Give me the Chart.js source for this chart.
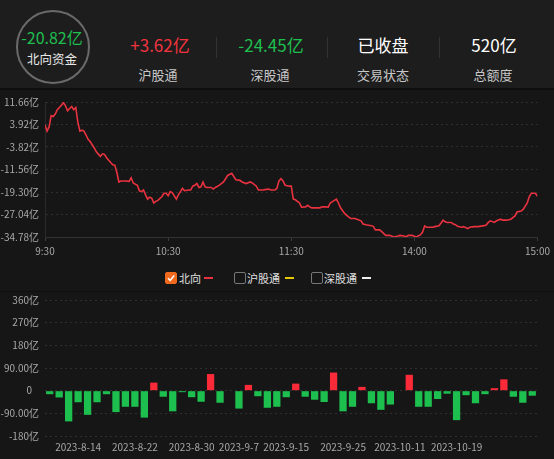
<!DOCTYPE html>
<html><head><meta charset="utf-8">
<script src="https://cdn.jsdelivr.net/npm/chart.js@4.4.0/dist/chart.umd.min.js"></script>
<style>
html,body{margin:0;padding:0;background:#161616;width:554px;height:459px;overflow:hidden;font-family:"Noto Sans CJK SC","Noto Sans",sans-serif;}
#header{position:absolute;left:0;top:0;width:554px;height:88px;background:#1d1d1d;}
#hline{position:absolute;left:0;top:88px;width:554px;height:2px;background:#0e0e0e;}
#circle{position:absolute;left:16px;top:10px;width:70px;height:70px;border:2.5px solid #6a6a6a;border-radius:50%;}
.t{position:absolute;white-space:nowrap;transform:translate(-50%,-50%);line-height:1;}
.v{font-size:17px;}
.l{font-size:13px;color:#c8c8c8;}
.sep{position:absolute;top:37px;width:1px;height:21px;background:#333;}
#line{position:absolute;left:0;top:90px;}
#bar{position:absolute;left:0;top:288px;}
#lsep{position:absolute;left:0;top:291px;width:554px;height:1px;background:#0f0f0f;}
.lg{position:absolute;top:272px;height:13px;font-size:11px;color:#e0e0e0;line-height:13px;}
.cb{position:absolute;top:272px;width:10px;height:10px;border:1px solid #777;border-radius:2px;}
.dash{position:absolute;top:277px;width:9px;height:2px;}
</style></head>
<body>
<div id="header"></div>
<div id="hline"></div>
<div id="circle"></div>
<div class="t v" style="left:52px;top:37px;color:#1fbf4f;font-size:16px">-20.82亿</div>
<div class="t" style="left:52px;top:59px;color:#e8e8e8;font-size:12.5px">北向资金</div>
<div class="t v" style="left:160px;top:44px;color:#f2333f">+3.62亿</div>
<div class="t l" style="left:158px;top:74px">沪股通</div>
<div class="sep" style="left:216px"></div>
<div class="t v" style="left:271px;top:44px;color:#1fbf4f">-24.45亿</div>
<div class="t l" style="left:270px;top:74px">深股通</div>
<div class="sep" style="left:327px"></div>
<div class="t v" style="left:383px;top:44px;color:#ffffff">已收盘</div>
<div class="t l" style="left:383px;top:74px">交易状态</div>
<div class="sep" style="left:439px"></div>
<div class="t v" style="left:494px;top:44px;color:#ffffff">520亿</div>
<div class="t l" style="left:493px;top:74px">总额度</div>

<canvas id="line" width="554" height="172"></canvas>

<div class="cb" style="left:165px;background:#f06a1d;border-color:#f06a1d"><svg width="10" height="10" viewBox="0 0 10 10" style="position:absolute;left:0;top:0"><path d="M2 5.2 L4.2 7.4 L8.2 2.6" stroke="#fff" stroke-width="1.6" fill="none"/></svg></div>
<div class="lg" style="left:179px">北向</div>
<div class="dash" style="left:204px;background:#e8323f"></div>
<div class="cb" style="left:234px"></div>
<div class="lg" style="left:247px">沪股通</div>
<div class="dash" style="left:285px;background:#e6c700"></div>
<div class="cb" style="left:311px"></div>
<div class="lg" style="left:324px">深股通</div>
<div class="dash" style="left:362px;background:#eeeeee"></div>
<div id="lsep"></div>

<canvas id="bar" width="554" height="171"></canvas>

<script>
// ---- intraday northbound flow (minutes since 9:30, trading-time) ----
const minutes = [0,1,2,3,4,5,6,8,9,10,11,12,13,14,15,16,17,18,19,20,21,22,23,24,25,27,28,29,30,32,33,34,35,36,37,39,41,42,43,45,46,47,48,49,50,51,52,53,54,55,57,58,59,60,61,62,63,64,65,66,67,68,70,71,72,73,74,75,76,77,78,79,81,82,83,85,87,88,89,91,93,95,96,98,100,101,103,104,106,108,109,110,112,113,114,115,116,117,119,120,121,122,124,125,127,128,129,130,132,134,135,137,138,139,141,142,143,144,146,147,149,151,152,154,155,157,159,160,161,163,164,166,168,170,172,173,175,176,177,179,180,181,183,184,185,186,189,190,192,193,194,195,196,198,199,200,201,203,204,206,207,209,211,214,215,216,217,219,220,222,223,225,227,229,230,232,233,235,236,237,239,240];
const northFlow = [3.86,1.64,3.09,6.98,6.65,7.54,8.99,10.55,11.44,10.32,8.65,9.43,10.10,8.99,9.77,4.76,1.64,1.97,1.64,0.30,-1.15,-1.93,-3.04,-4.15,-5.49,-7.05,-6.16,-6.38,-7.49,-9.16,-9.94,-10.05,-12.50,-15.85,-15.51,-15.51,-15.62,-14.40,-16.18,-16.96,-18.90,-19.19,-18.63,-20.30,-21.75,-21.08,-21.41,-23.08,-22.53,-22.19,-20.86,-19.74,-19.74,-20.63,-19.19,-19.52,-20.63,-21.75,-20.30,-19.19,-18.07,-18.85,-18.63,-18.63,-17.29,-16.96,-16.40,-17.74,-17.52,-15.85,-17.52,-17.74,-17.74,-18.30,-17.74,-16.96,-15.85,-14.73,-13.62,-12.90,-15.07,-15.29,-15.85,-16.40,-15.85,-16.18,-17.29,-18.63,-18.63,-18.41,-18.30,-18.63,-18.63,-18.07,-15.51,-14.73,-15.51,-16.96,-17.29,-17.29,-21.75,-21.97,-23.08,-24.53,-24.42,-23.86,-24.42,-24.75,-24.75,-24.75,-24.42,-24.42,-24.53,-23.08,-22.19,-21.75,-23.08,-24.75,-26.65,-27.32,-28.43,-28.43,-28.65,-29.21,-30.32,-30.66,-30.88,-31.10,-32.33,-32.33,-32.88,-34.22,-34.22,-34.78,-34.44,-34.22,-34.44,-34.78,-34.22,-34.22,-34.55,-34.78,-34.00,-33.10,-31.00,-31.44,-31.44,-31.21,-30.88,-29.99,-28.99,-29.54,-29.77,-29.77,-30.32,-30.55,-31.10,-31.44,-31.21,-31.88,-31.44,-31.21,-31.21,-30.88,-30.66,-29.77,-29.21,-29.77,-29.21,-28.65,-28.99,-28.99,-28.65,-27.54,-26.20,-25.87,-25.31,-23.08,-20.86,-19.74,-19.74,-20.82];
const timeTickPos = [0,60,120,180,240];
const timeTickLabels = ['9:30','10:30','11:30','14:00','15:00'];
const flowTicks = [11.66,3.92,-3.82,-11.56,-19.30,-27.04,-34.78];

// ---- daily northbound net flow ----
const dates = ['2023-8-9','2023-8-10','2023-8-11','2023-8-14','2023-8-15','2023-8-16','2023-8-17','2023-8-18','2023-8-21','2023-8-22','2023-8-23','2023-8-24','2023-8-25','2023-8-28','2023-8-29','2023-8-30','2023-8-31','2023-9-1','2023-9-4','2023-9-5','2023-9-7','2023-9-8','2023-9-11','2023-9-12','2023-9-13','2023-9-15','2023-9-18','2023-9-19','2023-9-20','2023-9-21','2023-9-22','2023-9-25','2023-9-26','2023-9-27','2023-9-28','2023-10-9','2023-10-10','2023-10-11','2023-10-12','2023-10-13','2023-10-16','2023-10-17','2023-10-18','2023-10-19','2023-10-20','2023-10-23','2023-10-24','2023-10-25','2023-10-26','2023-10-27','2023-10-30','2023-10-31'];
const dailyFlow = [-14,-27,-122,-46,-96,-46,-14,-85,-64,-64,-107,32,-24,-82,-6,-26,-44,66,-48,2,-71,23,-22,-68,-64,-26,28,-24,-36,-45,72,-82,-64,15,-50,-76,-55,-2,63,-64,-64,-33,-12,-117,-18,-50,-14,10,45,-24,-48,-20];
const shownDates = ['2023-8-14','2023-8-22','2023-8-30','2023-9-7','2023-9-15','2023-9-25','2023-10-11','2023-10-19'];
const barTicks = [360,270,180,90,0,-90,-180];
const barTickLabels = ['360亿','270亿','180亿','90.00亿','0\u2002\u2009','-90.00亿','-180亿'];

const FONT = {family:'"Noto Sans CJK SC","Noto Sans",sans-serif', size:10};
const TICKC = '#a8a8a8';
const GRIDC = '#2f2f2f';

new Chart(document.getElementById('line'), {
  type:'line',
  data:{datasets:[{data:minutes.map((m,i)=>({x:m,y:northFlow[i]})),borderColor:'#e8323f',borderWidth:1.6,pointRadius:0,tension:0,fill:false}]},
  options:{
    responsive:false,animation:false,
    layout:{padding:{top:8,right:15,left:0,bottom:0}},
    plugins:{legend:{display:false},tooltip:{enabled:false}},
    scales:{
      x:{type:'linear',min:0,max:240,
        afterBuildTicks:s=>{s.ticks=timeTickPos.map(v=>({value:v}));},
        afterFit:s=>{s.height=25;},
        ticks:{color:TICKC,font:FONT,padding:4,maxRotation:0,autoSkip:false,callback:(v)=>timeTickLabels[timeTickPos.indexOf(v)]},
        grid:{drawOnChartArea:false,drawTicks:true,tickLength:4,color:'#3a3a3a'},
        border:{display:true,color:'#333'}
      },
      y:{min:-34.78,max:11.66,
        afterBuildTicks:s=>{s.ticks=flowTicks.map(v=>({value:v}));},
        afterFit:s=>{s.width=45;},
        ticks:{color:TICKC,font:FONT,padding:6,callback:(v)=>v.toFixed(2)+'亿'},
        grid:{color:GRIDC,drawTicks:false},
        border:{display:true,color:'#2a2a2a',dash:[2,3]}
      }
    }
  }
});

new Chart(document.getElementById('bar'), {
  type:'bar',
  data:{labels:dates,datasets:[{data:dailyFlow,backgroundColor:dailyFlow.map(v=>v>=0?'#fa2a38':'#1dbf4f'),borderWidth:0,barPercentage:0.77,categoryPercentage:1}]},
  options:{
    responsive:false,animation:false,
    layout:{padding:{top:8,right:17,left:0,bottom:0}},
    plugins:{legend:{display:false},tooltip:{enabled:false}},
    scales:{
      x:{
        afterFit:s=>{s.height=23;},
        ticks:{color:TICKC,font:FONT,padding:5,maxRotation:0,autoSkip:false,callback:function(v,i){const d=dates[i];return shownDates.includes(d)?d:'';}},
        grid:{display:false,drawTicks:false},
        border:{display:false}
      },
      y:{min:-180,max:360,
        afterBuildTicks:s=>{s.ticks=barTicks.map(v=>({value:v}));},
        afterFit:s=>{s.width=45;},
        ticks:{color:TICKC,font:FONT,padding:6,callback:(v)=>barTickLabels[barTicks.indexOf(v)]},
        grid:{color:GRIDC,drawTicks:false},
        border:{display:false,dash:[2,3]}
      }
    }
  }
});
</script>
</body></html>
